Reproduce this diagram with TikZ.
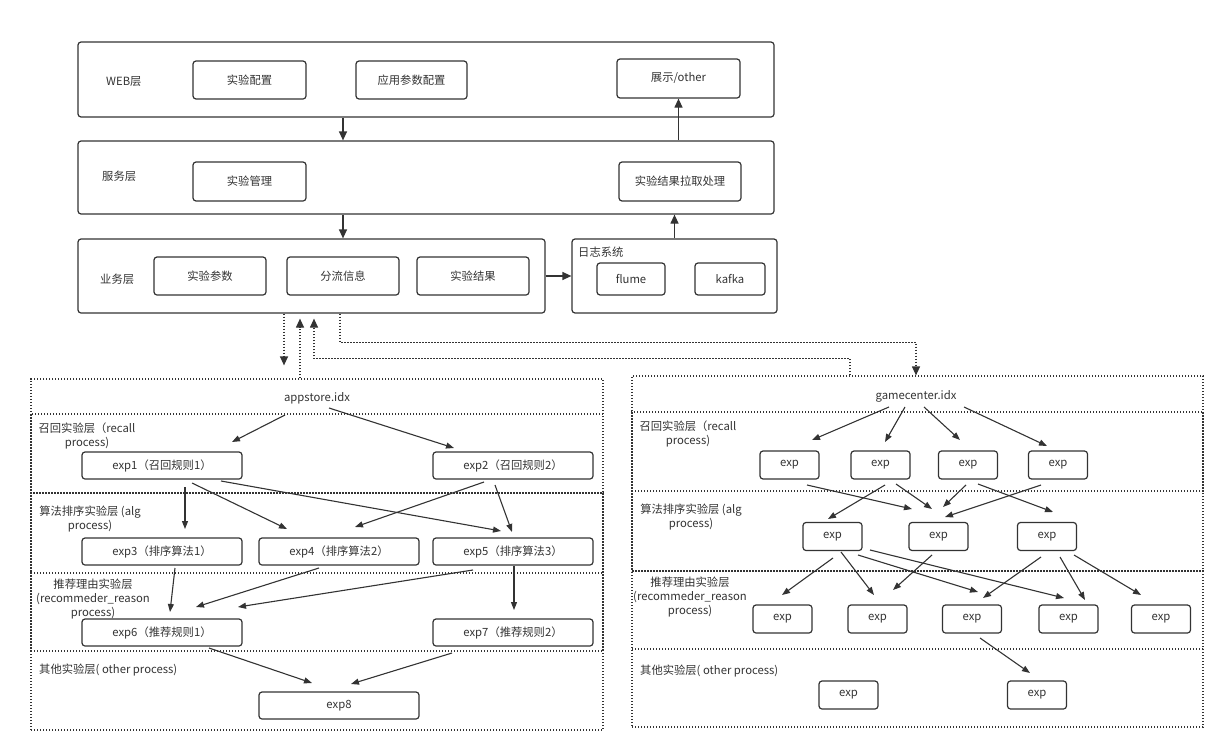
\documentclass[tikz,border=0pt]{standalone}
\usepackage{fontspec}
\setmainfont{Noto Sans CJK SC}
\usetikzlibrary{arrows.meta}

\tikzset{
  layerbox/.style={draw=black!80, line width=1.2pt, rounded corners=3pt, inner sep=0pt},
  box/.style={draw=black!80, line width=1.2pt, rounded corners=3pt, inner sep=0pt, minimum height=38pt, text=black!80},
  expbox/.style={box, minimum width=160pt, minimum height=27pt},
  smallexp/.style={box, minimum width=59pt, minimum height=28pt},
  dotbox/.style={draw=black!80, line width=1.2pt, dash pattern=on 1.4pt off 1.6pt, inner sep=0pt},
  lbl/.style={text=black!80, inner sep=0pt},
  arr/.style={black!80, line width=1.1pt, arrows={-Triangle[length=8pt,width=6pt]}},
  bigarr/.style={black!80, line width=1.2pt, arrows={-Triangle[length=9pt,width=8pt]}},
  dotarr/.style={black!80, line width=1.2pt, dash pattern=on 1.4pt off 1.6pt, arrows={-Triangle[length=9pt,width=8pt]}},
}

\begin{document}
\begin{tikzpicture}[x=1pt,y=-1pt,font=\fontsize{11.3}{14}\selectfont]
\useasboundingbox (0,0) rectangle (1227,747);

% top layers
\node[layerbox, minimum width=696pt, minimum height=75pt] (web) at (426,79.5) {};
\node[layerbox, minimum width=696pt, minimum height=73pt] (svc) at (426,177.5) {};
\node[layerbox, minimum width=467pt, minimum height=74pt] (biz) at (311.5,276) {};
\node[layerbox, minimum width=205pt, minimum height=74pt] (log) at (674.5,276) {};

\node[lbl, anchor=west] (weblbl) at (106,82) {WEB层};
\node[lbl, anchor=west] (svclbl) at (102,176) {服务层};
\node[lbl, anchor=west] (bizlbl) at (100,279) {业务层};
\node[lbl, anchor=west] (loglbl) at (578,252) {日志系统};

\node[box, minimum width=113pt] (cfg) at (249.5,80) {实验配置};
\node[box, minimum width=111pt] (appcfg) at (411.5,80) {应用参数配置};
\node[box, minimum width=123pt, minimum height=39pt] (show) at (678.5,78.5) {展示/other};
\node[box, minimum width=113pt, minimum height=39pt] (mgmt) at (249.5,181.5) {实验管理};
\node[box, minimum width=122pt, minimum height=39pt] (fetch) at (680,181.5) {实验结果拉取处理};
\node[box, minimum width=112pt] (param) at (210,276) {实验参数};
\node[box, minimum width=112pt] (flow) at (343,276) {分流信息};
\node[box, minimum width=112pt] (result) at (473,276) {实验结果};
\node[box, minimum width=68pt, minimum height=32pt] (flume) at (631,279) {flume};
\node[box, minimum width=70pt, minimum height=32pt] (kafka) at (730,279) {kafka};

\draw[bigarr] (web.south -| flow) -- (svc.north -| flow);
\draw[bigarr] (svc.south -| flow) -- (biz.north -| flow);
\draw[bigarr] (svc.north -| show) -- (show.south);
\draw[bigarr] (log.north) -- (svc.south -| log);
\draw[bigarr] (biz.east) -- (log.west);

% appstore
\node[dotbox, minimum width=572pt, minimum height=351pt] (left) at (317,554.5) {};
\node[dotbox, minimum width=572pt, minimum height=79pt] (lrecall) at (317,453.5) {};
\node[dotbox, minimum width=572pt, minimum height=80pt] (lalg) at (317,533) {};
\node[dotbox, minimum width=572pt, minimum height=78pt] (lrsn) at (317,612) {};

\node[lbl] (app) at (317,398) {appstore.idx};
\node[lbl, align=center] (lrecalllbl) at (87,436) {召回实验层（recall\\process)};
\node[lbl, align=center] (lalglbl) at (90,519.5) {算法排序实验层 (alg\\process)};
\node[lbl, align=center] (lrsnlbl) at (93,599) {推荐理由实验层\\(recommeder\_reason\\process)};
\node[lbl, anchor=west] (lothlbl) at (39,670) {其他实验层( other process)};

\node[expbox] (exp1) at (162,465.5) {exp1（召回规则1）};
\node[expbox] (exp2) at (513,465.5) {exp2（召回规则2）};
\node[expbox] (exp3) at (162,551.5) {exp3（排序算法1）};
\node[expbox] (exp4) at (339,551.5) {exp4（排序算法2）};
\node[expbox] (exp5) at (513,551.5) {exp5（排序算法3）};
\node[expbox] (exp6) at (162,632.5) {exp6（推荐规则1）};
\node[expbox] (exp7) at (513,632.5) {exp7（推荐规则2）};
\node[expbox] (exp8) at (339,705.5) {exp8};

\draw[arr] ([xshift=-32pt,yshift=-17pt]app.center) -- ([xshift=70pt,yshift=23.5pt]exp1.center);
\draw[arr] ([xshift=12pt,yshift=-10pt]app.center) -- ([xshift=-59pt,yshift=17.5pt]exp2.center);
\draw[arr] ([xshift=23pt,yshift=-21.5pt]exp1.center) -- ([xshift=23pt,yshift=22.5pt]exp3.center);
\draw[arr] ([xshift=30pt,yshift=-17.5pt]exp1.center) -- ([xshift=-52pt,yshift=22.5pt]exp4.center);
\draw[arr] ([xshift=59pt,yshift=-15.5pt]exp1.center) -- ([xshift=-12pt,yshift=20.5pt]exp5.center);
\draw[arr] ([xshift=-29pt,yshift=-16.5pt]exp2.center) -- ([xshift=16pt,yshift=24.5pt]exp4.center);
\draw[arr] ([xshift=-18pt,yshift=-19.5pt]exp2.center) -- ([xshift=-1pt,yshift=19.5pt]exp5.center);
\draw[arr] ([xshift=13pt,yshift=-16.5pt]exp3.center) -- ([xshift=8pt,yshift=20.5pt]exp6.center);
\draw[arr] ([xshift=-20pt,yshift=-16.5pt]exp4.center) -- ([xshift=34pt,yshift=25.5pt]exp6.center);
\draw[arr] ([xshift=-40pt,yshift=-18.5pt]exp5.center) -- ([xshift=76pt,yshift=25.5pt]exp6.center);
\draw[arr] ([xshift=1pt,yshift=-14.5pt]exp5.center) -- ([xshift=1pt,yshift=22.5pt]exp7.center);
\draw[arr] ([xshift=47pt,yshift=-15.5pt]exp6.center) -- ([xshift=-27pt,yshift=22.5pt]exp8.center);
\draw[arr] ([xshift=-61pt,yshift=-20.5pt]exp7.center) -- ([xshift=12pt,yshift=21.5pt]exp8.center);

% gamecenter
\node[dotbox, minimum width=571pt, minimum height=351pt] (right) at (917.5,551.5) {};
\node[dotbox, minimum width=571pt, minimum height=79pt] (rrecall) at (917.5,451.5) {};
\node[dotbox, minimum width=571pt, minimum height=80pt] (ralg) at (917.5,531) {};
\node[dotbox, minimum width=571pt, minimum height=78pt] (rrsn) at (917.5,610) {};

\node[lbl] (gc) at (916,396) {gamecenter.idx};
\node[lbl, align=center] (rrecalllbl) at (688,433.5) {召回实验层（recall\\process)};
\node[lbl, align=center] (ralglbl) at (691,517.5) {算法排序实验层 (alg\\process)};
\node[lbl, align=center] (rrsnlbl) at (690,597.5) {推荐理由实验层\\(recommeder\_reason\\process)};
\node[lbl, anchor=west] (rothlbl) at (640,671) {其他实验层( other process)};

\node[smallexp] (rcl1) at (789.5,465) {exp};
\node[smallexp] (rcl2) at (880.5,465) {exp};
\node[smallexp] (rcl3) at (968,465) {exp};
\node[smallexp] (rcl4) at (1058,465) {exp};
\node[smallexp] (alg1) at (832.5,536.5) {exp};
\node[smallexp] (alg2) at (938.5,536.5) {exp};
\node[smallexp] (alg3) at (1047,536.5) {exp};
\node[smallexp] (rsn1) at (782.5,619) {exp};
\node[smallexp] (rsn2) at (877.5,619) {exp};
\node[smallexp] (rsn3) at (972,619) {exp};
\node[smallexp] (rsn4) at (1068.5,619) {exp};
\node[smallexp] (rsn5) at (1161,619) {exp};
\node[smallexp] (oth1) at (848.5,695) {exp};
\node[smallexp] (oth2) at (1037,695) {exp};

\draw[arr] ([xshift=-27pt,yshift=-11pt]gc.center) -- ([xshift=22.5pt,yshift=25pt]rcl1.center);
\draw[arr] ([xshift=-11pt,yshift=-11pt]gc.center) -- ([xshift=4.5pt,yshift=23pt]rcl2.center);
\draw[arr] ([xshift=8pt,yshift=-11pt]gc.center) -- ([xshift=-8pt,yshift=25pt]rcl3.center);
\draw[arr] ([xshift=48pt,yshift=-11pt]gc.center) -- ([xshift=-11pt,yshift=19pt]rcl4.center);
\draw[arr] ([xshift=17.5pt,yshift=-20pt]rcl1.center) -- ([xshift=-26.5pt,yshift=27.5pt]alg2.center);
\draw[arr] ([xshift=4.5pt,yshift=-20pt]rcl2.center) -- ([xshift=-4.5pt,yshift=17.5pt]alg1.center);
\draw[arr] ([xshift=15.5pt,yshift=-19pt]rcl2.center) -- ([xshift=-6.5pt,yshift=27.5pt]alg2.center);
\draw[arr] ([xshift=-2pt,yshift=-20pt]rcl3.center) -- ([xshift=4.5pt,yshift=29.5pt]alg2.center);
\draw[arr] ([xshift=10pt,yshift=-19pt]rcl3.center) -- ([xshift=6pt,yshift=24.5pt]alg3.center);
\draw[arr] ([xshift=-17pt,yshift=-20pt]rcl4.center) -- ([xshift=6.5pt,yshift=19.5pt]alg2.center);
\draw[arr] ([xshift=0.5pt,yshift=-21.5pt]alg1.center) -- ([xshift=-0.5pt,yshift=24pt]rsn1.center);
\draw[arr] ([xshift=8.5pt,yshift=-15.5pt]alg1.center) -- ([xshift=-3.5pt,yshift=24pt]rsn2.center);
\draw[arr] ([xshift=25.5pt,yshift=-18.5pt]alg1.center) -- ([xshift=6pt,yshift=27pt]rsn3.center);
\draw[arr] ([xshift=37.5pt,yshift=-13.5pt]alg1.center) -- ([xshift=-4.5pt,yshift=21pt]rsn4.center);
\draw[arr] ([xshift=-6.5pt,yshift=-18.5pt]alg2.center) -- ([xshift=15.5pt,yshift=29pt]rsn2.center);
\draw[arr] ([xshift=-6pt,yshift=-20.5pt]alg3.center) -- ([xshift=11pt,yshift=21pt]rsn3.center);
\draw[arr] ([xshift=13pt,yshift=-20.5pt]alg3.center) -- ([xshift=16.5pt,yshift=19pt]rsn4.center);
\draw[arr] ([xshift=27pt,yshift=-18.5pt]alg3.center) -- ([xshift=-20pt,yshift=24pt]rsn5.center);
\draw[arr] ([xshift=8pt,yshift=-19pt]rsn3.center) -- ([xshift=-7pt,yshift=22pt]oth2.center);

% dotted links
\draw[dotarr] ([xshift=-27.5pt]biz.south) -- ([xshift=-33pt,yshift=13pt]left.north);
\draw[dotarr] ([xshift=-17pt]left.north) -- ([xshift=-11.5pt,yshift=-5pt]biz.south);
\draw[dotarr] ([xshift=-67.5pt]right.north) |- ([xshift=2.5pt,yshift=-45pt]biz.south) -- ([xshift=2.5pt,yshift=-5pt]biz.south);
\draw[dotarr] ([xshift=28.5pt]biz.south) |- ([xshift=-1.5pt,yshift=33pt]right.north) -- ([xshift=-1.5pt]right.north);
\end{tikzpicture}
\end{document}
